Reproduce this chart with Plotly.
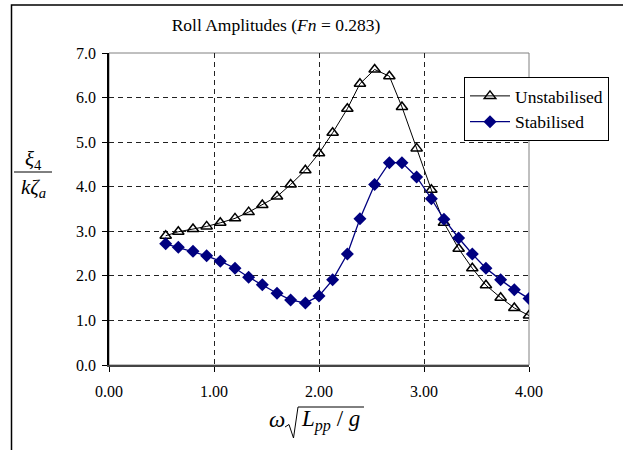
import plotly.graph_objects as go

# Data
freq = [0.54, 0.66, 0.80, 0.93, 1.06, 1.20, 1.33, 1.46, 1.60, 1.73, 1.87, 2.00, 2.13,
        2.27, 2.39, 2.53, 2.67, 2.79, 2.93, 3.07, 3.19, 3.33, 3.46, 3.59, 3.73, 3.86, 4.00]
unstabilised = [2.90, 2.99, 3.05, 3.11, 3.19, 3.29, 3.43, 3.59, 3.78, 4.05, 4.37, 4.75, 5.21,
                5.75, 6.31, 6.63, 6.48, 5.79, 4.86, 3.93, 3.19, 2.61, 2.17, 1.79, 1.51, 1.28, 1.11]
stabilised = [2.72, 2.64, 2.55, 2.45, 2.33, 2.17, 1.97, 1.80, 1.61, 1.46, 1.39, 1.55, 1.91,
              2.49, 3.28, 4.05, 4.54, 4.54, 4.22, 3.73, 3.27, 2.85, 2.49, 2.17, 1.91, 1.69, 1.49]
x_ticks = [0, 1, 2, 3, 4]
x_tick_labels = ["0.00", "1.00", "2.00", "3.00", "4.00"]
y_ticks = [0, 1, 2, 3, 4, 5, 6, 7]
y_tick_labels = ["0.0", "1.0", "2.0", "3.0", "4.0", "5.0", "6.0", "7.0"]

FONT = "'Liberation Serif', 'Times New Roman', Times, serif"
W, H = 623, 450
L, R, T, B = 109, 529, 53, 365


def px(xp):
    return (xp - L) / (R - L)


def py(yp):
    return (B - yp) / (B - T)


fig = go.Figure()
fig.add_trace(go.Scatter(
    x=freq, y=unstabilised, mode="lines+markers", name="Unstabilised",
    line=dict(color="black", width=1),
    marker=dict(symbol="triangle-up-open", size=10, color="black", line=dict(width=1.5)),
))
fig.add_trace(go.Scatter(
    x=freq, y=stabilised, mode="lines+markers", name="Stabilised",
    line=dict(color="#000080", width=1.3),
    marker=dict(symbol="diamond", size=10, color="#000080"),
))

radical_pts = [(285, 427), (289, 424.5), (293.5, 438), (298, 407), (364, 407)]
radical_path = "M " + " L ".join(f"{px(a):.5f},{py(b):.5f}" for a, b in radical_pts)

shapes = [
    # plot-area border (grey)
    dict(type="rect", xref="paper", yref="paper", x0=0, y0=0, x1=1, y1=1,
         line=dict(color="#808080", width=1), layer="below"),
    # outer chart frame
    dict(type="rect", xref="paper", yref="paper", x0=px(11.5), y0=py(5), x1=1.4, y1=-0.4,
         line=dict(color="black", width=1.5)),
    # y-label fraction bar
    dict(type="line", xref="paper", yref="paper", x0=px(14), x1=px(52), y0=py(172), y1=py(172),
         line=dict(color="black", width=1)),
    # radical sign in x-label
    dict(type="path", xref="paper", yref="paper", path=radical_path,
         line=dict(color="black", width=1)),
]

annotations = [
    dict(text="<i>ξ</i><sub>4</sub>", xref="paper", yref="paper", x=px(33), y=py(160),
         showarrow=False, font=dict(family=FONT, size=21, color="black"),
         xanchor="center", yanchor="middle"),
    dict(text="<i>kζ</i><sub><i>a</i></sub>", xref="paper", yref="paper", x=px(33), y=py(188),
         showarrow=False, font=dict(family=FONT, size=21, color="black"),
         xanchor="center", yanchor="middle"),
    dict(text="<i>ω</i>", xref="paper", yref="paper", x=px(287), y=py(419),
         showarrow=False, font=dict(family=FONT, size=23, color="black"),
         xanchor="right", yanchor="middle"),
    dict(text="<i>L</i><sub><i>pp</i></sub> / <i>g</i>", xref="paper", yref="paper", x=px(299), y=py(420),
         showarrow=False, font=dict(family=FONT, size=23, color="black"),
         xanchor="left", yanchor="middle"),
]

fig.update_layout(
    width=W, height=H,
    margin=dict(l=L, r=W - R, t=T, b=H - B, pad=0),
    paper_bgcolor="white", plot_bgcolor="white",
    font=dict(family=FONT, size=16, color="black"),
    title=dict(text="Roll Amplitudes (<i>Fn</i> = 0.283)", xref="container", x=276 / W,
               xanchor="center", yref="container", y=1 - 25 / H, yanchor="middle",
               font=dict(family=FONT, size=17.5, color="black")),
    showlegend=True,
    legend=dict(x=px(464), y=py(77), xanchor="left", yanchor="top",
                bordercolor="black", borderwidth=1, bgcolor="white",
                font=dict(family=FONT, size=17.5, color="black"),
                tracegroupgap=0, itemwidth=40),
    shapes=shapes,
    annotations=annotations,
)

fig.update_xaxes(
    range=[0, 4], tickmode="array", tickvals=x_ticks, ticktext=x_tick_labels,
    showgrid=True, gridcolor="#222222", gridwidth=1, griddash="5px,4px",
    zeroline=False, showline=True, linecolor="#444444", linewidth=2,
    ticks="outside", ticklen=5, tickcolor="black", tickwidth=1,
    tickfont=dict(family=FONT, size=16, color="black"), ticklabelstandoff=6,
    layer="below traces",
)
fig.update_yaxes(
    range=[0, 7], tickmode="array", tickvals=y_ticks, ticktext=y_tick_labels,
    showgrid=True, gridcolor="#222222", gridwidth=1, griddash="5px,4px",
    zeroline=False, showline=True, linecolor="black", linewidth=1.5,
    ticks="outside", ticklen=5, tickcolor="black", tickwidth=1,
    tickfont=dict(family=FONT, size=16, color="black"), ticklabelstandoff=3,
    layer="below traces",
)

fig.write_html("out.html", config={"displayModeBar": False},
               post_script="document.body.style.margin='0';")
